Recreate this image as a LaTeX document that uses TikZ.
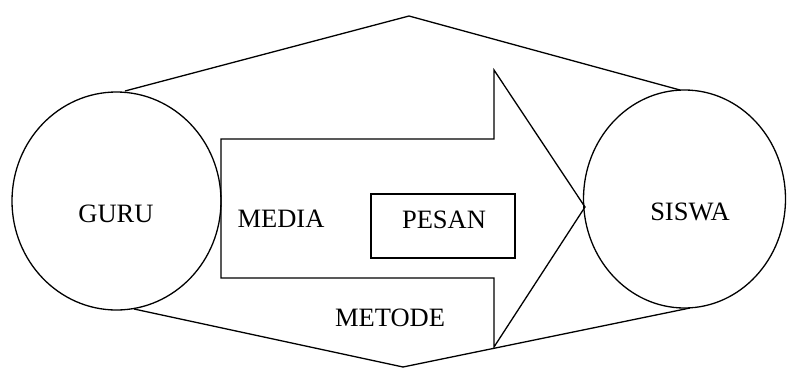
\documentclass[tikz,border=0pt]{standalone}
\usepackage{fontspec}
\setmainfont{Liberation Serif}
\usetikzlibrary{shapes.geometric}
\begin{document}
\begin{tikzpicture}[x=1pt, y=-1pt, line width=1.3pt,
  lbl/.style={font=\fontsize{26.5}{29}\selectfont, anchor=base, inner sep=0pt},
  party/.style={draw, ellipse, inner sep=0pt}]
\useasboundingbox (0,0) rectangle (787,370);

% the two parties
\node[party, minimum width=209pt, minimum height=218pt] (guru) at (116.5,201) {};
\node[party, minimum width=202pt, minimum height=218pt] (siswa) at (684.5,199) {};

% outer hexagonal frame
\coordinate (gtop) at (125,91);
\coordinate (gbot) at (134,309);
\coordinate (stop) at (680,90);
\coordinate (sbot) at (690,308);
\coordinate (apex) at (409,16);
\coordinate (nadir) at (403,367);
\draw (gtop) -- (apex) -- (stop);
\draw (gbot) -- (nadir) -- (sbot);

% the big arrow from teacher to student
\draw (221,139) -- (494,139) -- (494,70) -- (585,207) -- (494,347)
      -- (494,278) -- (221,278) -- cycle;

% message box
\node[draw, minimum width=144pt, minimum height=64pt, inner sep=0pt] (pesan) at (443,226) {};

% labels
\node[lbl] (tguru) at (116,222) {GURU};
\node[lbl] (tsiswa) at (690,220) {SISWA};
\node[lbl] (tmedia) at (281,227) {MEDIA};
\node[lbl] (tpesan) at (444,228) {PESAN};
\node[lbl] (tmetode) at (390,326) {METODE};
\end{tikzpicture}
\end{document}
